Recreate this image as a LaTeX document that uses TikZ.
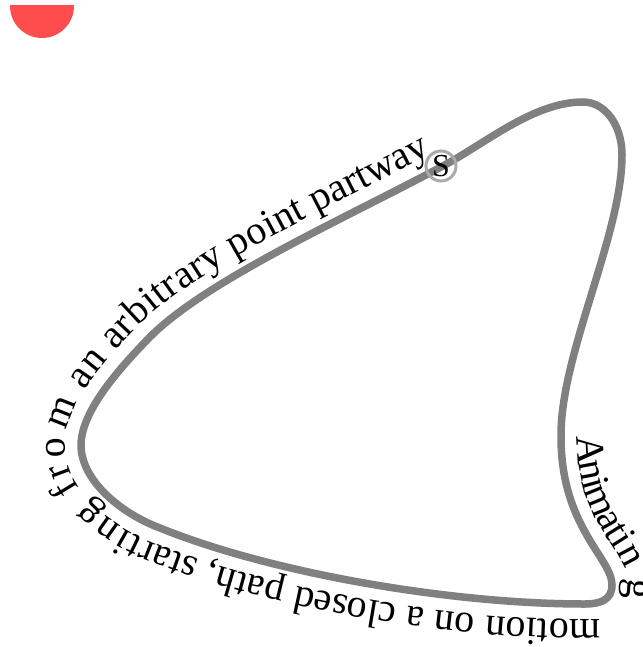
\documentclass[tikz,border=0pt]{standalone}
\usepackage{fontspec}
\setmainfont{Liberation Serif}
\usetikzlibrary{decorations.text}
\definecolor{pathgray}{RGB}{128,128,128}
\definecolor{ringgray}{RGB}{170,170,170}
\definecolor{dotred}{RGB}{255,77,77}
\tikzset{
  motionpath/.style={draw=pathgray, line width=7.5pt},
  ringnode/.style={circle, draw=ringgray, line width=3pt, minimum size=30pt, inner sep=0pt, font=\fontsize{32}{36}\selectfont},
  pathtext/.style={decorate, decoration={text along path, raise=16pt,
    text={|\fontsize{40}{48}\selectfont|Animating motion on a closed path, starting from an arbitrary point partway}}},
}
\begin{document}
\begin{tikzpicture}[x=1pt,y=1pt]
\useasboundingbox (0,0) rectangle (642,-647);
\begin{scope}
  \clip (0,-6) rectangle (120,-60);
  \fill[dotred] (42,-6) circle (32);
\end{scope}
\coordinate (P0) at (441,-167);
\coordinate (P1) at (583,-102);
\coordinate (P2) at (622,-155);
\coordinate (P3) at (561,-437);
\coordinate (P4) at (612,-585);
\coordinate (P5) at (585,-604);
\coordinate (Q)  at (160,-528);
\coordinate (P6) at (81,-445);
\coordinate (R)  at (147,-340);
\draw[motionpath] (P0) .. controls (485,-144) and (533,-102) .. (P1)
  .. controls (605,-102) and (622,-125) .. (P2)
  .. controls (622,-235) and (560,-355) .. (P3)
  .. controls (561,-527) and (612,-558) .. (P4)
  .. controls (612,-600) and (600,-604) .. (P5)
  .. controls (450,-604) and (271,-573) .. (Q)
  .. controls (120,-513) and (81,-480) .. (P6)
  .. controls (81,-410) and (123,-365) .. (R)
  .. controls (202,-282) and (344,-219) .. (P0) -- cycle;
\path[pathtext] (P3)
  .. controls (561,-527) and (612,-558) .. (P4)
  .. controls (612,-600) and (600,-604) .. (P5)
  .. controls (450,-604) and (271,-573) .. (Q)
  .. controls (120,-513) and (81,-480) .. (P6)
  .. controls (81,-410) and (123,-365) .. (R)
  .. controls (202,-282) and (344,-219) .. (P0)
  .. controls (485,-144) and (533,-102) .. (P1);
\node[ringnode] (s) at (441,-166) {S};
\end{tikzpicture}
\end{document}
